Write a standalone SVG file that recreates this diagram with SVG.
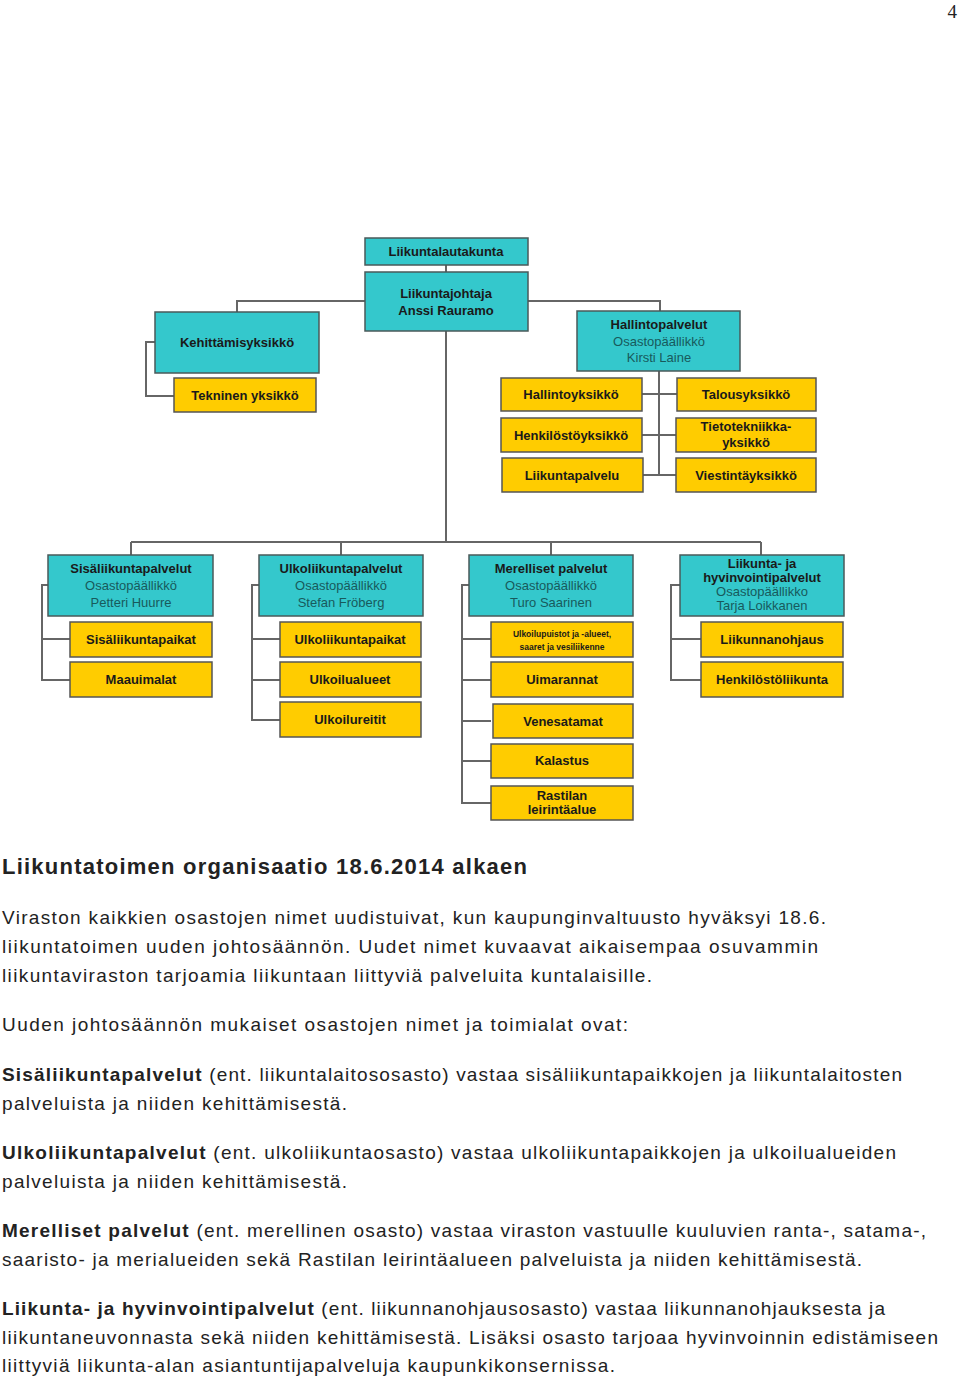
<svg xmlns="http://www.w3.org/2000/svg" width="960" height="1379" viewBox="0 0 960 1379">
<style>
.t{fill:#34c8cc;stroke:#4a5a5a;stroke-width:1.5}
.y{fill:#ffcc00;stroke:#555;stroke-width:1.5}
.b{font-family:"Liberation Sans",Arial,sans-serif;font-weight:bold;font-size:13px;fill:#1a1a1a;text-anchor:middle}
.s{font-family:"Liberation Sans",Arial,sans-serif;font-size:13px;fill:#185a5c;text-anchor:middle}
.sm{font-size:8.5px}
.c{fill:none;stroke:#666;stroke-width:2}
.p{font-family:"Liberation Sans",Arial,sans-serif;font-size:19px;fill:#222}
.h{font-weight:bold}
</style>
<rect width="960" height="1379" fill="#fff"/>
<text x="957" y="18" font-family="Liberation Serif,serif" font-size="19" text-anchor="end" fill="#222">4</text>
<g id="connectors" class="c">
<path d="M446 265V272M446 331V542M131 542H761M131 542V555M341 542V555M551 542V555M761 542V555"/>
<path d="M365 301H237V312M528 301H660V311M155 342H146V396H174"/>
<path d="M659 371V475M642 394H677M642 435H676M643 475H676"/>
<path d="M48 585H42V680H70M42 639H70"/>
<path d="M259 585H252V720H280M252 639H280M252 680H280"/>
<path d="M469 585H462V803H491M462 639H491M462 680H491M462 721H491M462 761H491"/>
<path d="M680 585H671V680H701M671 639H701"/>
</g>
<g id="n1"><rect class="t" x="365" y="238" width="163" height="27"/><text class="b" x="446" y="256">Liikuntalautakunta</text></g>
<g id="n2"><rect class="t" x="365" y="272" width="163" height="59"/><text class="b" x="446" y="298">Liikuntajohtaja</text><text class="b" x="446" y="315">Anssi Rauramo</text></g>
<g id="n3"><rect class="t" x="155" y="312" width="164" height="61"/><text class="b" x="237" y="347">Kehittämisyksikkö</text></g>
<g id="n4"><rect class="y" x="174" y="378" width="142" height="34"/><text class="b" x="245" y="400">Tekninen yksikkö</text></g>
<g id="n5"><rect class="t" x="577" y="311" width="163" height="60"/><text class="b" x="659" y="329">Hallintopalvelut</text><text class="s" x="659" y="346">Osastopäällikkö</text><text class="s" x="659" y="362">Kirsti Laine</text></g>
<g id="n6"><rect class="y" x="501" y="378" width="141" height="33"/><text class="b" x="571" y="399">Hallintoyksikkö</text></g>
<g id="n7"><rect class="y" x="677" y="378" width="139" height="33"/><text class="b" x="746" y="399">Talousyksikkö</text></g>
<g id="n8"><rect class="y" x="501" y="418" width="141" height="34"/><text class="b" x="571" y="440">Henkilöstöyksikkö</text></g>
<g id="n9"><rect class="y" x="676" y="418" width="140" height="34"/><text class="b" x="746" y="431">Tietotekniikka-</text><text class="b" x="746" y="447">yksikkö</text></g>
<g id="n10"><rect class="y" x="502" y="458" width="141" height="34"/><text class="b" x="572" y="480">Liikuntapalvelu</text></g>
<g id="n11"><rect class="y" x="676" y="458" width="140" height="34"/><text class="b" x="746" y="480">Viestintäyksikkö</text></g>
<g id="n12"><rect class="t" x="48" y="555" width="165" height="61"/><text class="b" x="131" y="573">Sisäliikuntapalvelut</text><text class="s" x="131" y="590">Osastopäällikkö</text><text class="s" x="131" y="607">Petteri Huurre</text></g>
<g id="n13"><rect class="y" x="70" y="622" width="142" height="35"/><text class="b" x="141" y="644">Sisäliikuntapaikat</text></g>
<g id="n14"><rect class="y" x="70" y="662" width="142" height="35"/><text class="b" x="141" y="684">Maauimalat</text></g>
<g id="n15"><rect class="t" x="259" y="555" width="164" height="61"/><text class="b" x="341" y="573">Ulkoliikuntapalvelut</text><text class="s" x="341" y="590">Osastopäällikkö</text><text class="s" x="341" y="607">Stefan Fröberg</text></g>
<g id="n16"><rect class="y" x="280" y="622" width="141" height="35"/><text class="b" x="350" y="644">Ulkoliikuntapaikat</text></g>
<g id="n17"><rect class="y" x="280" y="662" width="141" height="35"/><text class="b" x="350" y="684">Ulkoilualueet</text></g>
<g id="n18"><rect class="y" x="280" y="702" width="141" height="35"/><text class="b" x="350" y="724">Ulkoilureitit</text></g>
<g id="n19"><rect class="t" x="469" y="555" width="164" height="61"/><text class="b" x="551" y="573">Merelliset palvelut</text><text class="s" x="551" y="590">Osastopäällikkö</text><text class="s" x="551" y="607">Turo Saarinen</text></g>
<g id="n20"><rect class="y" x="491" y="622" width="142" height="35"/><text class="b sm" x="562" y="637">Ulkoilupuistot ja -alueet,</text><text class="b sm" x="562" y="650">saaret ja  vesiliikenne</text></g>
<g id="n21"><rect class="y" x="491" y="662" width="142" height="35"/><text class="b" x="562" y="684">Uimarannat</text></g>
<g id="n22"><rect class="y" x="493" y="704" width="140" height="34"/><text class="b" x="563" y="726">Venesatamat</text></g>
<g id="n23"><rect class="y" x="491" y="744" width="142" height="34"/><text class="b" x="562" y="765">Kalastus</text></g>
<g id="n24"><rect class="y" x="491" y="786" width="142" height="34"/><text class="b" x="562" y="800">Rastilan</text><text class="b" x="562" y="814">leirintäalue</text></g>
<g id="n25"><rect class="t" x="680" y="555" width="164" height="61"/><text class="b" x="762" y="568">Liikunta- ja</text><text class="b" x="762" y="582">hyvinvointipalvelut</text><text class="s" x="762" y="596">Osastopäällikko</text><text class="s" x="762" y="610">Tarja Loikkanen</text></g>
<g id="n26"><rect class="y" x="701" y="622" width="142" height="35"/><text class="b" x="772" y="644">Liikunnanohjaus</text></g>
<g id="n27"><rect class="y" x="701" y="662" width="142" height="35"/><text class="b" x="772" y="684">Henkilöstöliikunta</text></g>
<g class="p">
<text x="2" y="874" class="h" font-size="22" textLength="525" lengthAdjust="spacing">Liikuntatoimen organisaatio 18.6.2014 alkaen</text>
<text x="2" y="924" textLength="824" lengthAdjust="spacing">Viraston kaikkien osastojen nimet uudistuivat, kun kaupunginvaltuusto hyväksyi 18.6.</text>
<text x="2" y="953" textLength="816" lengthAdjust="spacing">liikuntatoimen uuden johtosäännön. Uudet nimet kuvaavat aikaisempaa osuvammin</text>
<text x="2" y="982" textLength="650" lengthAdjust="spacing">liikuntaviraston tarjoamia liikuntaan liittyviä palveluita kuntalaisille.</text>
<text x="2" y="1031" textLength="626" lengthAdjust="spacing">Uuden johtosäännön mukaiset osastojen nimet ja toimialat ovat:</text>
<text x="2" y="1081" textLength="900" lengthAdjust="spacing"><tspan class="h">Sisäliikuntapalvelut</tspan> (ent. liikuntalaitososasto) vastaa sisäliikuntapaikkojen ja liikuntalaitosten</text>
<text x="2" y="1110" textLength="345" lengthAdjust="spacing">palveluista ja niiden kehittämisestä.</text>
<text x="2" y="1159" textLength="894" lengthAdjust="spacing"><tspan class="h">Ulkoliikuntapalvelut</tspan> (ent. ulkoliikuntaosasto) vastaa ulkoliikuntapaikkojen ja ulkoilualueiden</text>
<text x="2" y="1188" textLength="345" lengthAdjust="spacing">palveluista ja niiden kehittämisestä.</text>
<text x="2" y="1237" textLength="924" lengthAdjust="spacing"><tspan class="h">Merelliset palvelut</tspan> (ent. merellinen osasto) vastaa viraston vastuulle kuuluvien ranta-, satama-,</text>
<text x="2" y="1266" textLength="860" lengthAdjust="spacing">saaristo- ja merialueiden sekä Rastilan leirintäalueen palveluista ja niiden kehittämisestä.</text>
<text x="2" y="1315" textLength="883" lengthAdjust="spacing"><tspan class="h">Liikunta- ja hyvinvointipalvelut</tspan> (ent. liikunnanohjausosasto) vastaa liikunnanohjauksesta ja</text>
<text x="2" y="1344" textLength="936" lengthAdjust="spacing">liikuntaneuvonnasta sekä niiden kehittämisestä. Lisäksi osasto tarjoaa hyvinvoinnin edistämiseen</text>
<text x="2" y="1372" textLength="613" lengthAdjust="spacing">liittyviä liikunta-alan asiantuntijapalveluja kaupunkikonsernissa.</text>
</g>
</svg>
